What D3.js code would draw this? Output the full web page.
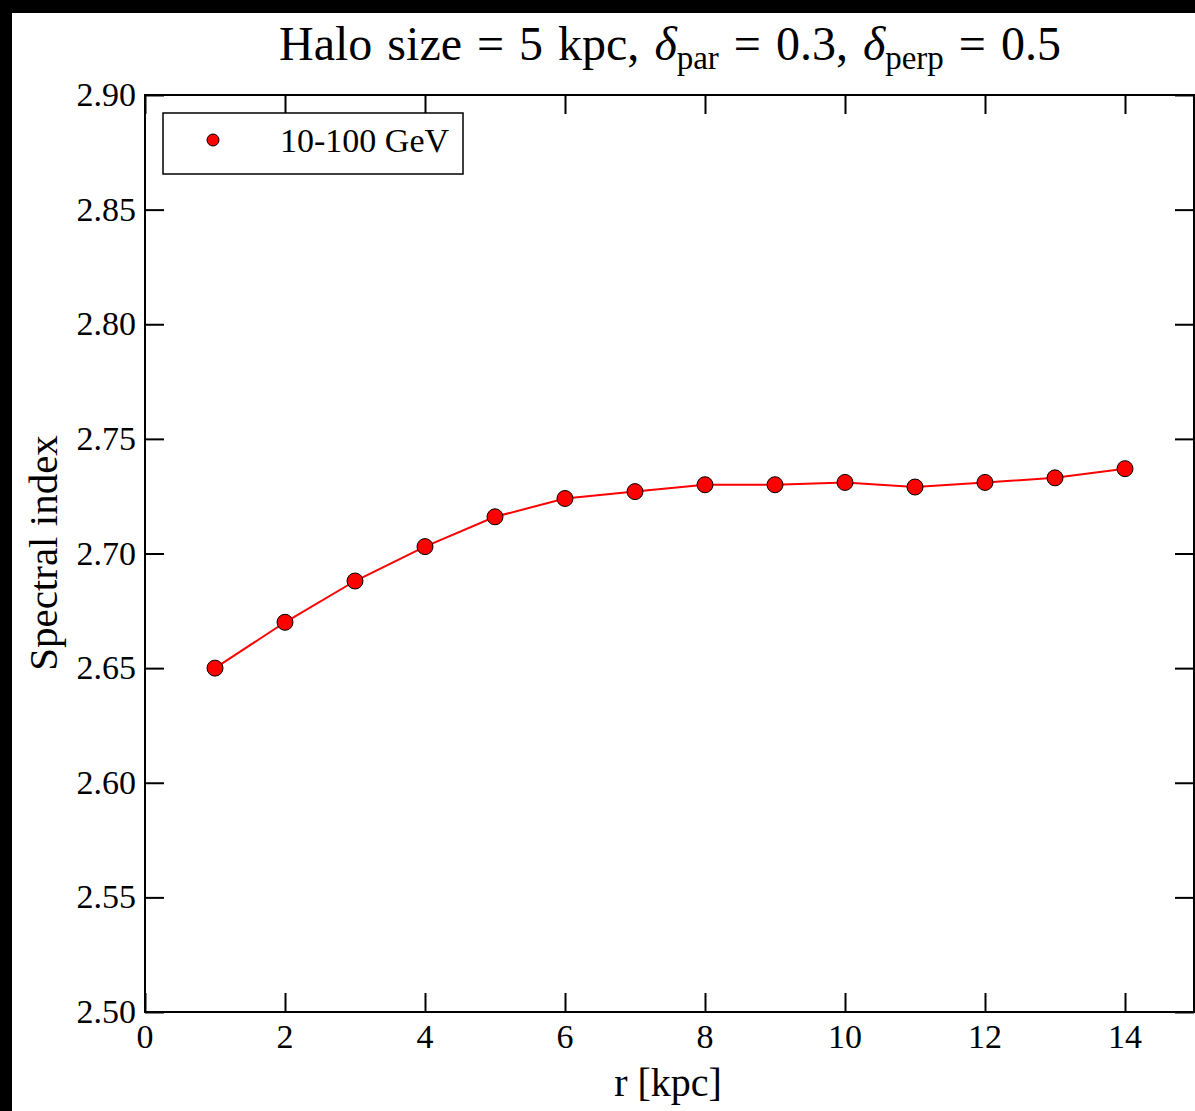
<!DOCTYPE html>
<html>
<head>
<meta charset="utf-8">
<script src="https://cdn.jsdelivr.net/npm/d3@7"></script>
<style>
  body { margin: 0; background: #000; }
  svg text { font-family: "Liberation Serif", "DejaVu Serif", serif; fill: #000; }
</style>
</head>
<body>
<svg id="chart-svg" width="1195" height="1111"></svg>
<script>
// radius in kpc
const radius = [1, 2, 3, 4, 5, 6, 7, 8, 9, 10, 11, 12, 13, 14];
// spectral index, 10-100 GeV
const specIndex = [2.650, 2.670, 2.688, 2.703, 2.716, 2.724, 2.727, 2.730, 2.730, 2.731, 2.729, 2.731, 2.733, 2.737];
const xTicks = [0, 2, 4, 6, 8, 10, 12, 14];
const yTicks = [2.50, 2.55, 2.60, 2.65, 2.70, 2.75, 2.80, 2.85, 2.90];
const seriesName = '10-100 GeV';

const svg = d3.select('#chart-svg');
const serif = '"Liberation Serif", "DejaVu Serif", serif';

// black frame, white figure
svg.append('rect').attr('width', 1195).attr('height', 1111).attr('fill', '#000');
svg.append('rect').attr('x', 12).attr('y', 13).attr('width', 1183).attr('height', 1098).attr('fill', '#fff');

const plotLeft = 145, plotRight = 1195, plotTop = 95, plotBottom = 1012;

let xScale = d3.scaleLinear().domain([0, 15]).range([plotLeft, plotRight]);
let yScale = d3.scaleLinear().domain([2.50, 2.90]).range([plotBottom, plotTop]);

const tickLen = 19;

// ticks on all four sides, pointing in
const xAxisBottom = d3.axisBottom(xScale).tickValues(xTicks).tickSize(-tickLen).tickFormat('');
const xAxisTop = d3.axisTop(xScale).tickValues(xTicks).tickSize(-tickLen).tickFormat('');
const yAxisLeft = d3.axisLeft(yScale).tickValues(yTicks).tickSize(-tickLen).tickFormat('');
const yAxisRight = d3.axisRight(yScale).tickValues(yTicks).tickSize(-tickLen).tickFormat('');

function styleAxis(g) {
    g.select('.domain').remove();
    g.selectAll('.tick line').attr('stroke', '#000').attr('stroke-width', 2);
}

svg.append('g').attr('transform', `translate(0,${plotBottom})`).call(xAxisBottom).call(styleAxis);
svg.append('g').attr('transform', `translate(0,${plotTop})`).call(xAxisTop).call(styleAxis);
svg.append('g').attr('transform', `translate(${plotLeft},0)`).call(yAxisLeft).call(styleAxis);
svg.append('g').attr('transform', `translate(${plotRight - 1},0)`).call(yAxisRight).call(styleAxis);

// tick labels
svg.append('g').selectAll('text').data(xTicks).enter().append('text')
    .attr('x', d => xScale(d))
    .attr('y', plotBottom + 36)
    .attr('text-anchor', 'middle')
    .attr('font-family', serif)
    .style('font-size', '34px')
    .text(d => d);

svg.append('g').selectAll('text').data(yTicks).enter().append('text')
    .attr('x', plotLeft - 9)
    .attr('y', d => yScale(d) + 11)
    .attr('text-anchor', 'end')
    .attr('font-family', serif)
    .style('font-size', '34px')
    .text(d => d.toFixed(2));

// data line + markers
let lineGenerator = d3.line()
    .x((d, i) => xScale(radius[i]))
    .y(d => yScale(d));

svg.append('path')
    .attr('d', lineGenerator(specIndex))
    .attr('fill', 'none')
    .attr('stroke', '#ff0000')
    .attr('stroke-width', 2);

svg.append('g').selectAll('circle').data(specIndex).enter().append('circle')
    .attr('cx', (d, i) => xScale(radius[i]))
    .attr('cy', d => yScale(d))
    .attr('r', 8)
    .attr('fill', '#ff0000')
    .attr('stroke', '#000')
    .attr('stroke-width', 1);

// spines
svg.append('rect')
    .attr('x', plotLeft).attr('y', plotTop)
    .attr('width', plotRight - plotLeft - 1).attr('height', plotBottom - plotTop)
    .attr('fill', 'none')
    .attr('stroke', '#000')
    .attr('stroke-width', 2);

// legend
const legend = svg.append('g');
legend.append('rect')
    .attr('x', 163).attr('y', 113).attr('width', 300).attr('height', 61)
    .attr('fill', '#fff').attr('stroke', '#000').attr('stroke-width', 1.5);
legend.append('circle')
    .attr('cx', 213).attr('cy', 140).attr('r', 6)
    .attr('fill', '#ff0000').attr('stroke', '#000').attr('stroke-width', 1);
legend.append('text')
    .attr('x', 280).attr('y', 152)
    .attr('font-family', serif)
    .style('font-size', '34px')
    .text(seriesName);

// title
const title = svg.append('text')
    .attr('x', 670).attr('y', 60)
    .attr('text-anchor', 'middle')
    .attr('font-family', serif)
    .style('font-size', '48px')
    .style('word-spacing', '3px');
title.append('tspan').text('Halo size = 5 kpc, ');
title.append('tspan').style('font-style', 'italic').text('δ');
title.append('tspan').attr('dy', 9).style('font-size', '33px').text('par');
title.append('tspan').attr('dy', -9).text(' = 0.3, ');
title.append('tspan').style('font-style', 'italic').text('δ');
title.append('tspan').attr('dy', 9).style('font-size', '33px').text('perp');
title.append('tspan').attr('dy', -9).text(' = 0.5');

// axis labels
svg.append('text')
    .attr('x', (plotLeft + plotRight) / 2 - 2).attr('y', 1096)
    .attr('text-anchor', 'middle')
    .attr('font-family', serif)
    .style('font-size', '40px')
    .text('r [kpc]');

svg.append('text')
    .attr('transform', `translate(57,553) rotate(-90)`)
    .attr('text-anchor', 'middle')
    .attr('font-family', serif)
    .style('font-size', '41px')
    .text('Spectral index');
</script>
</body>
</html>
